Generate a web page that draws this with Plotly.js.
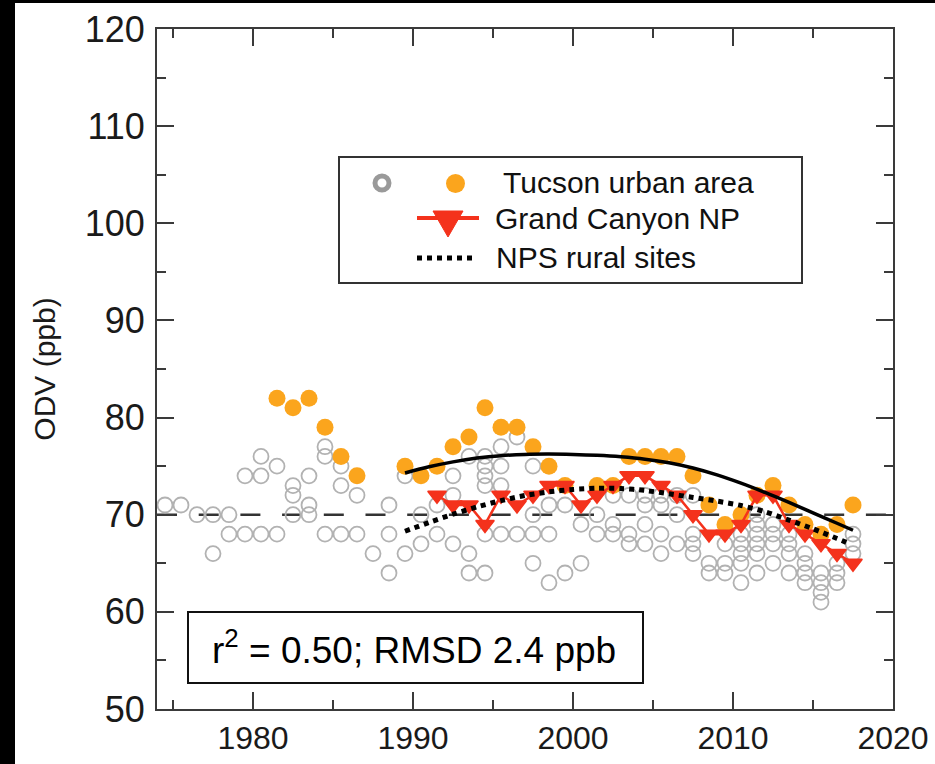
<!DOCTYPE html>
<html>
<head>
<meta charset="utf-8">
<script src="https://cdn.plot.ly/plotly-3.0.1.min.js"></script>
<style>
  html, body { margin: 0; padding: 0; background: #ffffff; }
  #chart { width: 935px; height: 764px; }
</style>
</head>
<body>
<div id="chart"></div>
<script>
// Tucson urban area: individual monitoring sites (open gray circles)
const tucsonSiteYear = [
  1974.5, 1975.5, 1976.5,
  1977.5, 1977.5,
  1978.5, 1978.5,
  1979.5, 1979.5,
  1980.5, 1980.5, 1980.5,
  1981.5, 1981.5,
  1982.5, 1982.5, 1982.5,
  1983.5, 1983.5, 1983.5,
  1984.5, 1984.5, 1984.5,
  1985.5, 1985.5, 1985.5,
  1986.5, 1986.5,
  1987.5,
  1988.5, 1988.5, 1988.5,
  1989.5, 1989.5,
  1990.5, 1990.5,
  1991.5, 1991.5,
  1992.5, 1992.5, 1992.5,
  1993.5, 1993.5, 1993.5,
  1994.5, 1994.5, 1994.5, 1994.5, 1994.5, 1994.5,
  1995.5, 1995.5, 1995.5, 1995.5,
  1996.5, 1996.5,
  1997.5, 1997.5, 1997.5, 1997.5,
  1998.5, 1998.5, 1998.5,
  1999.5, 1999.5,
  2000.5, 2000.5,
  2001.5, 2001.5,
  2002.5, 2002.5, 2002.5,
  2003.5, 2003.5, 2003.5,
  2004.5, 2004.5, 2004.5, 2004.5,
  2005.5, 2005.5, 2005.5, 2005.5,
  2006.5, 2006.5, 2006.5,
  2007.5, 2007.5, 2007.5, 2007.5,
  2008.5, 2008.5,
  2009.5, 2009.5, 2009.5,
  2010.5, 2010.5, 2010.5, 2010.5, 2010.5,
  2011.5, 2011.5, 2011.5, 2011.5, 2011.5, 2011.5,
  2012.5, 2012.5, 2012.5, 2012.5,
  2013.5, 2013.5, 2013.5, 2013.5,
  2014.5, 2014.5, 2014.5, 2014.5,
  2015.5, 2015.5, 2015.5, 2015.5,
  2016.5, 2016.5, 2016.5,
  2017.5, 2017.5, 2017.5
];
const tucsonSiteOdv = [
  71, 71, 70,
  70, 66,
  70, 68,
  74, 68,
  76, 74, 68,
  75, 68,
  73, 72, 70,
  74, 71, 70,
  77, 76, 68,
  75, 73, 68,
  72, 68,
  66,
  71, 68, 64,
  74, 66,
  70, 67,
  71, 68,
  74, 72, 67,
  76, 66, 64,
  76, 75, 74, 73, 68, 64,
  77, 75, 73, 68,
  78, 68,
  75, 70, 68, 65,
  71, 68, 63,
  71, 64,
  69, 65,
  70, 68,
  72, 69, 68,
  72, 68, 67,
  72, 71, 69, 67,
  72, 71, 68, 66,
  72, 70, 67,
  72, 68, 67, 66,
  65, 64,
  67, 65, 64,
  68, 67, 66, 65, 63,
  70, 69, 68, 67, 66, 64,
  69, 68, 67, 65,
  68, 67, 66, 64,
  66, 65, 64, 63,
  64, 63, 62, 61,
  65, 64, 63,
  68, 67, 66
];

// Tucson urban area: highest site each year (filled orange circles)
const tucsonMaxYear = [
  1981.5, 1982.5, 1983.5, 1984.5, 1985.5, 1986.5,
  1989.5, 1990.5, 1991.5, 1992.5, 1993.5, 1994.5, 1995.5, 1996.5, 1997.5, 1998.5, 1999.5,
  2001.5, 2002.5, 2003.5, 2004.5, 2005.5, 2006.5, 2007.5, 2008.5, 2009.5,
  2010.5, 2011.5, 2012.5, 2013.5, 2014.5, 2015.5, 2016.5, 2017.5
];
const tucsonMaxOdv = [
  82, 81, 82, 79, 76, 74,
  75, 74, 75, 77, 78, 81, 79, 79, 77, 75, 73,
  73, 73, 76, 76, 76, 76, 74, 71, 69,
  70, 72, 73, 71, 69, 68, 69, 71
];

// Grand Canyon NP
const grandCanyonYear = [
  1991.5, 1992.5, 1993.5, 1994.5, 1995.5, 1996.5, 1997.5, 1998.5, 1999.5, 2000.5,
  2001.5, 2002.5, 2003.5, 2004.5, 2005.5, 2006.5, 2007.5, 2008.5, 2009.5, 2010.5,
  2011.5, 2012.5, 2013.5, 2014.5, 2015.5, 2016.5, 2017.5
];
const grandCanyonOdv = [
  72, 71, 71, 69, 72, 71, 72, 73, 73, 71,
  72, 73, 74, 74, 73, 72, 70, 68, 68, 69,
  72, 72, 69, 68, 67, 66, 65
];

// Fitted trend through the Tucson values (solid black curve)
const tucsonFitYear = [1989.5, 1991.0, 1992.5, 1994.0, 1995.5, 1997.0, 1998.5, 2000.0, 2001.5, 2003.0, 2004.5, 2006.0, 2007.5, 2009.0, 2010.5, 2012.0, 2013.5, 2015.0, 2016.5, 2017.5];
const tucsonFitOdv  = [74.3, 74.93, 75.44, 75.83, 76.08, 76.21, 76.24, 76.2, 76.11, 75.96, 75.72, 75.35, 74.81, 74.1, 73.25, 72.29, 71.26, 70.2, 69.12, 68.4];

// NPS rural sites trend (dotted black curve)
const ruralYear = [1989.5, 1991.0, 1992.5, 1994.0, 1995.5, 1997.0, 1998.5, 2000.0, 2001.5, 2003.0, 2004.5, 2006.0, 2007.5, 2009.0, 2010.5, 2012.0, 2013.5, 2015.0, 2016.5, 2017.3];
const ruralOdv  = [68.3, 69.2, 70.05, 70.8, 71.45, 71.98, 72.35, 72.6, 72.72, 72.7, 72.5, 72.15, 71.78, 71.4, 70.95, 70.3, 69.45, 68.55, 67.55, 67.0];

// Axis ticks
const xTickVals = [1980, 1990, 2000, 2010, 2020];
const xTickText = ['1980', '1990', '2000', '2010', '2020'];
const yTickVals = [50, 60, 70, 80, 90, 100, 110, 120];
const yTickText = ['50', '60', '70', '80', '90', '100', '110', '120'];

// Reference level (dashed line)
const referenceOdv = 70;

// Legend and statistics text
const legendLabels = ['Tucson urban area', 'Grand Canyon NP', 'NPS rural sites'];
const statsText = 'r<sup>2</sup> = 0.50; RMSD 2.4 ppb';

// ---------------------------------------------------------------
const W = 935, H = 764;
const M = { l: 157, r: 42, t: 29, b: 55 };
const PW = W - M.l - M.r, PH = H - M.t - M.b;
// pixel position -> paper fraction (used for decorations outside the data scale)
const px = v => (v - M.l) / PW;
const py = v => (H - M.b - v) / PH;

const GRAY = '#b2b2b2';
const ORANGE = '#fba51d';
const RED = '#f4321c';
const AXIS = '#3a3a3a';
const SANS = 'Liberation Sans, Arial, sans-serif';

const traces = [
  {
    x: tucsonSiteYear, y: tucsonSiteOdv, type: 'scatter', mode: 'markers',
    marker: { symbol: 'circle-open', size: 15, color: GRAY, line: { width: 1.8, color: GRAY } },
    showlegend: false
  },
  {
    x: tucsonMaxYear, y: tucsonMaxOdv, type: 'scatter', mode: 'markers',
    marker: { symbol: 'circle', size: 17, color: ORANGE, line: { width: 0 } },
    showlegend: false
  },
  {
    x: grandCanyonYear, y: grandCanyonOdv, type: 'scatter', mode: 'lines+markers',
    line: { color: RED, width: 2.5 },
    marker: { symbol: 'triangle-down', size: 16, color: RED, line: { width: 1.5, color: RED } },
    showlegend: false
  },
  {
    x: ruralYear, y: ruralOdv, type: 'scatter', mode: 'lines',
    line: { color: '#000000', width: 5, dash: 'dot', shape: 'spline', smoothing: 0.8 },
    showlegend: false
  },
  {
    x: tucsonFitYear, y: tucsonFitOdv, type: 'scatter', mode: 'lines',
    line: { color: '#000000', width: 3.5, shape: 'spline', smoothing: 0.8 },
    showlegend: false
  }
];

const legendFont = { family: SANS, size: 30, color: '#111111' };

const shapes = [
  // black edge strips of the figure
  { type: 'rect', xref: 'paper', yref: 'paper', x0: px(0), x1: px(15), y0: py(H), y1: py(0),
    fillcolor: '#000000', line: { width: 0 }, layer: 'above' },
  { type: 'rect', xref: 'paper', yref: 'paper', x0: px(0), x1: px(W), y0: py(3), y1: py(0),
    fillcolor: '#000000', line: { width: 0 }, layer: 'above' },
  // dashed reference line
  { type: 'line', xref: 'paper', yref: 'y', x0: 0, x1: 1, y0: referenceOdv, y1: referenceOdv,
    line: { color: '#333333', width: 2.5, dash: '20px,21.7px' }, layer: 'below' },
  // legend frame
  { type: 'rect', xref: 'paper', yref: 'paper', x0: px(339), x1: px(802), y0: py(283), y1: py(157),
    fillcolor: '#ffffff', line: { color: '#333333', width: 2 }, layer: 'above' },
  // legend symbols
  { type: 'circle', xref: 'paper', yref: 'paper', x0: px(375), x1: px(389), y0: py(190), y1: py(176),
    fillcolor: 'rgba(0,0,0,0)', line: { color: '#9a9a9a', width: 5 }, layer: 'above' },
  { type: 'circle', xref: 'paper', yref: 'paper', x0: px(446), x1: px(465), y0: py(193), y1: py(174),
    fillcolor: ORANGE, line: { width: 0 }, layer: 'above' },
  { type: 'line', xref: 'paper', yref: 'paper', x0: px(417), x1: px(479), y0: py(218), y1: py(218),
    line: { color: RED, width: 4 }, layer: 'above' },
  { type: 'path', xref: 'paper', yref: 'paper',
    path: `M ${px(433)} ${py(211)} L ${px(463)} ${py(211)} L ${px(448)} ${py(237)} Z`,
    fillcolor: RED, line: { color: RED, width: 1 }, layer: 'above' },
  { type: 'line', xref: 'paper', yref: 'paper', x0: px(417), x1: px(475), y0: py(258), y1: py(258),
    line: { color: '#000000', width: 5, dash: 'dot' }, layer: 'above' },
  // statistics box
  { type: 'rect', xref: 'paper', yref: 'paper', x0: px(188), x1: px(643), y0: py(683), y1: py(612),
    fillcolor: '#ffffff', line: { color: '#111111', width: 2 }, layer: 'above' }
];

const annotations = [
  { xref: 'paper', yref: 'paper', x: px(501), y: py(183), xanchor: 'left', yanchor: 'middle',
    text: legendLabels[0], showarrow: false, font: legendFont },
  { xref: 'paper', yref: 'paper', x: px(493), y: py(218), xanchor: 'left', yanchor: 'middle',
    text: legendLabels[1], showarrow: false, font: legendFont },
  { xref: 'paper', yref: 'paper', x: px(494), y: py(257), xanchor: 'left', yanchor: 'middle',
    text: legendLabels[2], showarrow: false, font: legendFont },
  { xref: 'paper', yref: 'paper', x: px(414), y: py(647), xanchor: 'center', yanchor: 'middle',
    text: statsText, showarrow: false,
    font: { family: SANS, size: 37, color: '#000000' } }
];

const layout = {
  width: W, height: H,
  margin: M,
  paper_bgcolor: '#ffffff', plot_bgcolor: '#ffffff',
  showlegend: false,
  font: { family: SANS, color: '#1a1a1a' },
  xaxis: {
    range: [1974, 2020], showgrid: false, zeroline: false,
    showline: true, linecolor: AXIS, linewidth: 2, mirror: 'ticks',
    ticks: 'inside', ticklen: 17, tickwidth: 2, tickcolor: AXIS,
    tickvals: xTickVals, ticktext: xTickText,
    tickfont: { family: SANS, size: 32, color: '#1a1a1a' },
    ticklabelstandoff: 0,
    minor: { dtick: 5, tick0: 1975, ticks: 'inside', ticklen: 9, tickwidth: 2, tickcolor: AXIS }
  },
  yaxis: {
    range: [50, 120], showgrid: false, zeroline: false,
    showline: true, linecolor: AXIS, linewidth: 2, mirror: 'ticks',
    ticks: 'inside', ticklen: 17, tickwidth: 2, tickcolor: AXIS,
    tickvals: yTickVals, ticktext: yTickText,
    tickfont: { family: SANS, size: 36, color: '#1a1a1a' },
    ticklabelstandoff: 3,
    minor: { dtick: 5, tick0: 50, ticks: 'inside', ticklen: 9, tickwidth: 2, tickcolor: AXIS },
    title: { text: 'ODV (ppb)', standoff: 20,
      font: { family: SANS, size: 30, color: '#1a1a1a' } }
  },
  shapes: shapes,
  annotations: annotations
};

Plotly.newPlot('chart', traces, layout, { staticPlot: true, displayModeBar: false });
</script>
</body>
</html>
